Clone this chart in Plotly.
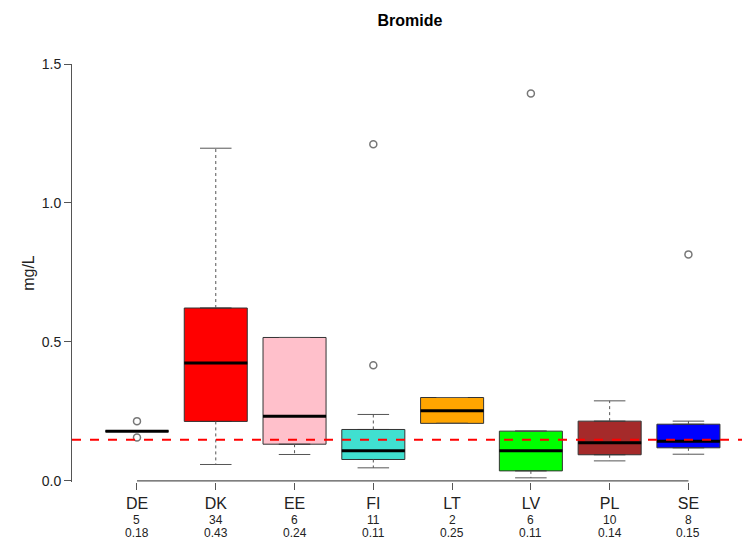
import plotly.graph_objects as go

# Bromide concentrations per country (box statistics)
countries = ["DE", "DK", "EE", "FI", "LT", "LV", "PL", "SE"]
box_colors = ["#FFFFFF", "#FF0000", "#FFC0CB", "#40E0D0", "#FFA500", "#00FF00", "#A52A2A", "#0000FF"]
q1 = [0.179, 0.214, 0.132, 0.077, 0.207, 0.036, 0.094, 0.119]
median = [0.179, 0.424, 0.233, 0.108, 0.252, 0.108, 0.137, 0.143]
q3 = [0.179, 0.622, 0.516, 0.185, 0.300, 0.179, 0.215, 0.204]
whisker_low = [0.179, 0.059, 0.095, 0.047, 0.207, 0.011, 0.072, 0.096]
whisker_high = [0.179, 1.197, 0.516, 0.239, 0.300, 0.179, 0.288, 0.215]

outlier_group = ["DE", "DE", "FI", "FI", "LV", "SE"]
outlier_value = [0.215, 0.156, 0.416, 1.211, 1.394, 0.815]

n_obs = [5, 34, 6, 11, 2, 6, 10, 8]
median_text = ["0.18", "0.43", "0.24", "0.11", "0.25", "0.11", "0.14", "0.15"]

threshold = 0.148

FONT = "Liberation Sans, Arial, sans-serif"
AXIS_GREY = "#555555"

fig = go.Figure()

# boxes (no whiskers here, those are drawn separately with dashes)
for i, c in enumerate(countries):
    fig.add_trace(go.Box(
        x=[i], q1=[q1[i]], median=[median[i]], q3=[q3[i]],
        lowerfence=[q1[i]], upperfence=[q3[i]],
        width=0.8, fillcolor=box_colors[i],
        line=dict(color="#333333", width=1),
        name=c, showlegend=False, hoverinfo="skip",
    ))

# dashed whiskers + solid caps
wx, wy, cx, cy = [], [], [], []
for i in range(len(countries)):
    if whisker_high[i] > q3[i]:
        wx += [i, i, None]
        wy += [q3[i], whisker_high[i], None]
    if whisker_low[i] < q1[i]:
        wx += [i, i, None]
        wy += [q1[i], whisker_low[i], None]
    cx += [i - 0.2, i + 0.2, None, i - 0.2, i + 0.2, None]
    cy += [whisker_high[i], whisker_high[i], None, whisker_low[i], whisker_low[i], None]

fig.add_trace(go.Scatter(x=wx, y=wy, mode="lines", showlegend=False, hoverinfo="skip",
                         line=dict(color=AXIS_GREY, width=1, dash="3px,3px")))
fig.add_trace(go.Scatter(x=cx, y=cy, mode="lines", showlegend=False, hoverinfo="skip",
                         line=dict(color=AXIS_GREY, width=1)))

# thick median bars
mx, my = [], []
for i in range(len(countries)):
    mx += [i - 0.4, i + 0.4, None]
    my += [median[i], median[i], None]
fig.add_trace(go.Scatter(x=mx, y=my, mode="lines", showlegend=False, hoverinfo="skip",
                         line=dict(color="black", width=3)))

# outliers
fig.add_trace(go.Scatter(
    x=[countries.index(g) for g in outlier_group], y=outlier_value,
    mode="markers", showlegend=False,
    marker=dict(symbol="circle-open", size=7, color="#777777", line=dict(width=1.5)),
))

# x axis line only from first to last category (R style)
fig.add_trace(go.Scatter(x=[0, len(countries) - 1], y=[0, 0], mode="lines",
                         showlegend=False, hoverinfo="skip", cliponaxis=False,
                         line=dict(color=AXIS_GREY, width=1.2)))

fig.add_hline(y=threshold, line=dict(color="#FF0000", width=2, dash="dash"))

# n / Median rows under the axis
row_font = dict(size=12, color="#222222")
fig.add_annotation(x=-1, y=0, xref="x", yref="paper", yanchor="middle", yshift=-38,
                   text="n", showarrow=False, font=row_font)
fig.add_annotation(x=-1, y=0, xref="x", yref="paper", yanchor="middle", yshift=-51,
                   text="Median", showarrow=False, font=row_font)
for i in range(len(countries)):
    fig.add_annotation(x=i, y=0, xref="x", yref="paper", yanchor="middle", yshift=-38,
                       text=str(n_obs[i]), showarrow=False, font=row_font)
    fig.add_annotation(x=i, y=0, xref="x", yref="paper", yanchor="middle", yshift=-51,
                       text=median_text[i], showarrow=False, font=row_font)

fig.update_layout(
    width=742, height=540,
    margin=dict(l=72, r=0, t=64, b=58),
    paper_bgcolor="white", plot_bgcolor="white",
    font=dict(family=FONT, color="#222222"),
    title=dict(text="<b>Bromide</b>", x=410 / 742, xanchor="center",
               y=1 - 20 / 540, yanchor="middle", font=dict(size=16, color="black")),
    showlegend=False,
)
fig.update_xaxes(
    range=[-0.825, 7.68], tickvals=list(range(len(countries))), ticktext=countries,
    showline=False, showgrid=False, zeroline=False,
    ticks="outside", ticklen=7, tickcolor=AXIS_GREY, tickfont=dict(size=16),
)
fig.update_yaxes(
    range=[-0.004, 1.5], tickvals=[0, 0.5, 1.0, 1.5], tickformat=".1f",
    showline=True, linecolor=AXIS_GREY, showgrid=False, zeroline=False,
    ticks="outside", ticklen=7, tickcolor=AXIS_GREY, tickfont=dict(size=14),
    title=dict(text="mg/L", font=dict(size=16), standoff=3),
)

fig.write_html("out.html", config={"displayModeBar": False},
               post_script="document.body.style.margin='0';")
